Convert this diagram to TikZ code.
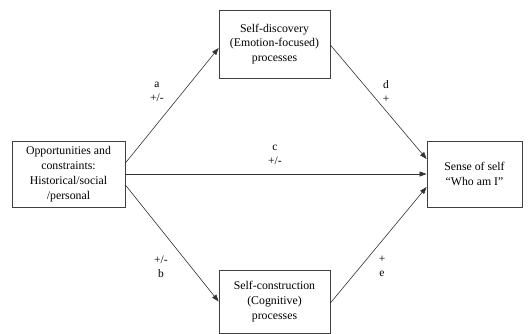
\documentclass[tikz,border=0pt]{standalone}
\usepackage{fontspec}
\setmainfont{Liberation Serif}
\usetikzlibrary{arrows.meta}
\begin{document}
\begin{tikzpicture}[x=1pt,y=-1pt,
  box/.style={draw=black!75, line width=0.8pt, align=center, inner sep=0pt,
    font=\fontsize{11.8}{14.8}\selectfont},
  conn/.style={draw=black!80, line width=0.6pt, -{Triangle[length=7pt,width=5pt]}},
  lbl/.style={align=center, font=\fontsize{11.5}{14}\selectfont, inner sep=0pt}]
\useasboundingbox (0,0) rectangle (532,334);
\node[box, minimum width=113pt, minimum height=66pt] (L) at (68.5,174) {Opportunities and\\constraints:\\Historical/social\\/personal};
\node[box, minimum width=111pt, minimum height=68pt] (T) at (274.5,44) {Self-discovery\\(Emotion-focused)\\processes};
\node[box, minimum width=111pt, minimum height=63pt] (B) at (274.5,301.5) {Self-construction\\(Cognitive)\\processes};
\node[box, minimum width=95pt, minimum height=66pt] (R) at (474.5,174) {Sense of self\\``Who am I''};
\draw[conn] ([yshift=11pt]L.east) -- ([yshift=-4pt]T.west);
\draw[conn] (L.east) -- (R.west);
\draw[conn] ([yshift=-11pt]L.east) -- (B.west);
\draw[conn] ([yshift=-1pt]T.east) -- ([yshift=15pt]R.west);
\draw[conn] ([yshift=-1.5pt]B.east) -- ([yshift=-13pt]R.west);
\node[lbl] (la) at (157,91.5) {a\\+/-};
\node[lbl] (lc) at (275,154.5) {c\\+/-};
\node[lbl] (ld) at (386,91.5) {d\\+};
\node[lbl] (lb) at (161,266.5) {+/-\\b};
\node[lbl] (le) at (382,266.5) {+\\e};
\end{tikzpicture}
\end{document}
